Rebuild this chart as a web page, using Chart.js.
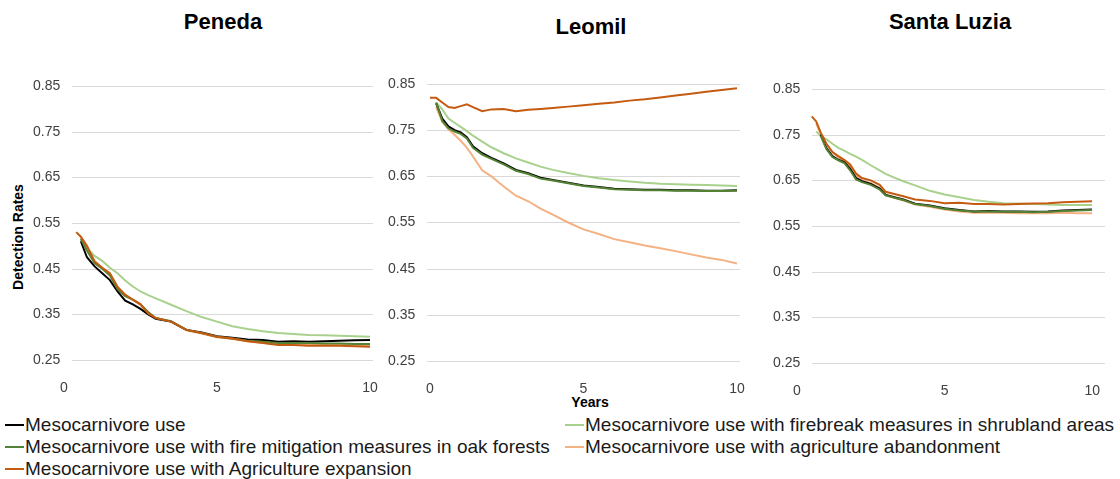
<!DOCTYPE html>
<html>
<head>
<meta charset="utf-8">
<script src="https://cdn.jsdelivr.net/npm/chart.js@4.4.1/dist/chart.umd.min.js"></script>
<style>
  html, body { margin: 0; padding: 0; background: #fff; }
  body { width: 1120px; height: 479px; position: relative; overflow: hidden;
         font-family: "Liberation Sans", Arial, sans-serif; color: #000; }
  canvas { position: absolute; left: 0; top: 0; }
  .title { position: absolute; font-weight: bold; font-size: 22px; transform: translate(-50%, -50%); white-space: nowrap; }
  .axis-title { position: absolute; font-weight: bold; font-size: 14px; white-space: nowrap; transform: translate(-50%, -50%); }
  .legend-item { position: absolute; font-size: 19px; white-space: nowrap; transform: translateY(-50%); color: #1a1a1a; }
  .legend-item .key { display: inline-block; width: 19px; height: 2px; vertical-align: middle; margin-right: 1px; position: relative; top: -1px; }
</style>
</head>
<body>

<div class="title" style="left:223px; top:22px;">Peneda</div>
<div class="title" style="left:591px; top:27px;">Leomil</div>
<div class="title" style="left:950px; top:22px;">Santa Luzia</div>
<div class="axis-title" style="left:18px; top:237px; transform: translate(-50%, -50%) rotate(-90deg);">Detection Rates</div>
<div class="axis-title" style="left:590px; top:402px;">Years</div>
<div id="legend"></div>

<canvas id="c1" width="1120" height="479"></canvas>
<canvas id="c2" width="1120" height="479"></canvas>
<canvas id="c3" width="1120" height="479"></canvas>

<script>
// ---- data ----
const seriesNames = [
  "Mesocarnivore use",
  "Mesocarnivore use with firebreak measures in shrubland areas",
  "Mesocarnivore use with fire mitigation measures in oak forests",
  "Mesocarnivore use with agriculture abandonment",
  "Mesocarnivore use with Agriculture expansion"
];
const seriesColors = ["#000000", "#a9d18e", "#548235", "#f4b183", "#c55a11"];

const yTicks = [0.25, 0.35, 0.45, 0.55, 0.65, 0.75, 0.85];
const xTicks = [0, 5, 10];

// Peneda
const penedaYears = [0.4, 0.55, 0.75, 1, 1.25, 1.5, 1.75, 2, 2.25, 2.5, 2.75, 3, 3.5, 4, 4.5, 5, 5.5, 6, 6.5, 7, 7.5, 8, 8.5, 9, 9.5, 10];
const penedaUse        = [null, 0.510, 0.475, 0.455, 0.440, 0.425, 0.400, 0.380, 0.372, 0.362, 0.350, 0.340, 0.334, 0.316, 0.310, 0.302, 0.299, 0.295, 0.294, 0.290, 0.291, 0.290, 0.291, 0.292, 0.293, 0.294];
const penedaFirebreak  = [null, 0.515, 0.495, 0.478, 0.467, 0.452, 0.440, 0.424, 0.411, 0.400, 0.392, 0.385, 0.371, 0.357, 0.344, 0.334, 0.324, 0.318, 0.313, 0.309, 0.307, 0.305, 0.304, 0.303, 0.302, 0.301];
const penedaOak        = [null, 0.515, 0.490, 0.462, 0.450, 0.435, 0.405, 0.390, 0.382, 0.372, 0.355, 0.342, 0.335, 0.316, 0.309, 0.301, 0.297, 0.292, 0.290, 0.287, 0.287, 0.287, 0.286, 0.286, 0.285, 0.285];
const penedaAbandon    = [null, 0.518, 0.495, 0.464, 0.452, 0.438, 0.410, 0.392, 0.382, 0.371, 0.353, 0.341, 0.334, 0.315, 0.308, 0.300, 0.296, 0.291, 0.288, 0.285, 0.285, 0.284, 0.284, 0.283, 0.283, 0.283];
const penedaExpansion  = [0.530, 0.520, 0.500, 0.466, 0.452, 0.440, 0.410, 0.393, 0.382, 0.372, 0.352, 0.342, 0.334, 0.316, 0.309, 0.301, 0.297, 0.291, 0.287, 0.283, 0.283, 0.281, 0.281, 0.281, 0.280, 0.279];

// Leomil
const leomilYears = [0, 0.2, 0.4, 0.6, 0.8, 1, 1.2, 1.4, 1.7, 2, 2.4, 2.8, 3.2, 3.6, 4, 4.5, 5, 5.5, 6, 6.5, 7, 7.5, 8, 8.5, 9, 9.5, 10];
const leomilUse        = [null, 0.808, 0.775, 0.758, 0.750, 0.745, 0.735, 0.715, 0.700, 0.690, 0.678, 0.664, 0.657, 0.647, 0.642, 0.636, 0.630, 0.627, 0.623, 0.622, 0.621, 0.621, 0.620, 0.620, 0.619, 0.619, 0.620];
const leomilFirebreak  = [null, 0.810, 0.795, 0.775, 0.766, 0.757, 0.748, 0.738, 0.725, 0.713, 0.700, 0.689, 0.680, 0.671, 0.664, 0.657, 0.651, 0.646, 0.642, 0.639, 0.636, 0.634, 0.633, 0.632, 0.631, 0.630, 0.629];
const leomilOak        = [null, 0.810, 0.770, 0.754, 0.747, 0.742, 0.732, 0.712, 0.697, 0.688, 0.676, 0.662, 0.655, 0.645, 0.641, 0.635, 0.629, 0.626, 0.622, 0.621, 0.620, 0.620, 0.619, 0.619, 0.618, 0.618, 0.619];
const leomilAbandon    = [null, 0.800, 0.768, 0.752, 0.740, 0.727, 0.712, 0.693, 0.663, 0.650, 0.628, 0.608, 0.596, 0.580, 0.567, 0.550, 0.535, 0.525, 0.514, 0.507, 0.500, 0.494, 0.488, 0.481, 0.474, 0.469, 0.461];
const leomilExpansion  = [0.820, 0.820, 0.810, 0.800, 0.798, 0.802, 0.806, 0.800, 0.791, 0.795, 0.796, 0.791, 0.794, 0.796, 0.798, 0.801, 0.804, 0.807, 0.810, 0.814, 0.817, 0.821, 0.825, 0.829, 0.833, 0.837, 0.841];

// Santa Luzia
const luziaYears = [0.5, 0.65, 0.8, 1, 1.2, 1.4, 1.6, 1.8, 2, 2.2, 2.5, 2.8, 3, 3.3, 3.6, 4, 4.5, 5, 5.5, 6, 6.5, 7, 7.5, 8, 8.5, 9, 9.5, 10];
const luziaUse         = [null, null, 0.750, 0.720, 0.703, 0.695, 0.690, 0.675, 0.655, 0.648, 0.642, 0.632, 0.618, 0.613, 0.608, 0.599, 0.595, 0.589, 0.585, 0.582, 0.583, 0.582, 0.582, 0.581, 0.582, 0.584, 0.585, 0.586];
const luziaFirebreak   = [null, 0.757, 0.748, 0.740, 0.730, 0.721, 0.715, 0.708, 0.702, 0.695, 0.683, 0.672, 0.664, 0.656, 0.648, 0.639, 0.627, 0.619, 0.613, 0.607, 0.603, 0.600, 0.599, 0.598, 0.597, 0.596, 0.596, 0.596];
const luziaOak         = [null, null, 0.748, 0.718, 0.701, 0.694, 0.688, 0.672, 0.652, 0.646, 0.640, 0.630, 0.617, 0.612, 0.607, 0.598, 0.594, 0.588, 0.584, 0.582, 0.582, 0.581, 0.581, 0.580, 0.581, 0.583, 0.584, 0.585];
const luziaAbandon     = [null, 0.775, 0.752, 0.728, 0.712, 0.700, 0.693, 0.680, 0.660, 0.650, 0.644, 0.633, 0.619, 0.612, 0.606, 0.597, 0.592, 0.586, 0.582, 0.579, 0.579, 0.579, 0.578, 0.578, 0.578, 0.579, 0.578, 0.578];
const luziaExpansion   = [0.790, 0.779, 0.755, 0.730, 0.712, 0.703, 0.695, 0.685, 0.665, 0.655, 0.650, 0.640, 0.625, 0.620, 0.615, 0.608, 0.605, 0.600, 0.601, 0.598, 0.598, 0.597, 0.598, 0.599, 0.600, 0.602, 0.603, 0.604];

// ---- layout (pixel boxes for each panel's plot area) ----
const W = 1120, H = 479;
const panels = [
  { id: "c1", years: penedaYears, series: [penedaUse, penedaFirebreak, penedaOak, penedaAbandon, penedaExpansion],
    left: 64, right: 370, top: 86, bottom: 360, gridLeft: 72, gridRight: 373 },
  { id: "c2", years: leomilYears, series: [leomilUse, leomilFirebreak, leomilOak, leomilAbandon, leomilExpansion],
    left: 430, right: 737, top: 84, bottom: 361, gridLeft: 427, gridRight: 740 },
  { id: "c3", years: luziaYears, series: [luziaUse, luziaFirebreak, luziaOak, luziaAbandon, luziaExpansion],
    left: 797, right: 1102, top: 89, bottom: 363, gridLeft: 812, gridRight: 1105 }
];
// draw order: light green at the bottom, orange on top
const drawOrder = [2, 5, 1, 4, 0];

const gridPlugin = {
  id: "hgrid",
  beforeDatasetsDraw(chart, args, opts) {
    const ctx = chart.ctx;
    const y = chart.scales.y;
    ctx.save();
    ctx.strokeStyle = "#d9d9d9";
    ctx.lineWidth = 1;
    yTicks.forEach(t => {
      const py = Math.round(y.getPixelForValue(t)) + 0.5;
      ctx.beginPath();
      ctx.moveTo(opts.from, py);
      ctx.lineTo(opts.to, py);
      ctx.stroke();
    });
    ctx.restore();
  }
};

const yAxisWidth = 40;
const labelWidth = 27;   // width of "0.85" at 14px

panels.forEach(p => {
  const datasets = p.series.map((vals, i) => ({
    label: seriesNames[i],
    data: p.years.map((x, k) => ({ x: x, y: vals[k] })),
    borderColor: seriesColors[i],
    backgroundColor: seriesColors[i],
    borderWidth: 2,
    pointRadius: 0,
    tension: 0,
    order: drawOrder[i]
  }));

  new Chart(document.getElementById(p.id), {
    type: "line",
    data: { datasets },
    plugins: [gridPlugin],
    options: {
      responsive: false,
      animation: false,
      events: [],
      layout: { padding: { left: p.left - yAxisWidth, right: W - p.right, top: p.top, bottom: 0 } },
      plugins: {
        legend: { display: false },
        tooltip: { enabled: false },
        hgrid: { from: p.gridLeft, to: p.gridRight }
      },
      scales: {
        x: {
          type: "linear",
          min: 0, max: 10,
          grid: { display: false, drawTicks: false },
          border: { display: false },
          afterBuildTicks: s => { s.ticks = xTicks.map(v => ({ value: v })); },
          afterFit: s => { s.height = H - p.bottom; },
          ticks: { color: "#404040", font: { family: "Liberation Sans, Arial", size: 14 }, padding: 20, maxRotation: 0 }
        },
        y: {
          min: 0.25, max: 0.85,
          grid: { display: false, drawTicks: false },
          border: { display: false },
          afterBuildTicks: s => { s.ticks = yTicks.map(v => ({ value: v })); },
          afterFit: s => { s.width = yAxisWidth; },
          ticks: {
            mirror: true,
            color: "#404040",
            font: { family: "Liberation Sans, Arial", size: 14 },
            padding: (p.gridLeft - 12 - labelWidth) - p.left,
            callback: v => v.toFixed(2)
          }
        }
      }
    }
  });
});

// ---- legend (HTML, Excel style two columns, row-wise) ----
const legendSlots = [
  { x: 5, y: 425 }, { x: 565, y: 425 },
  { x: 5, y: 447 }, { x: 565, y: 447 },
  { x: 5, y: 469 }
];
const legend = document.getElementById("legend");
seriesNames.forEach((name, i) => {
  const d = document.createElement("div");
  d.className = "legend-item";
  d.style.left = legendSlots[i].x + "px";
  d.style.top = legendSlots[i].y + "px";
  d.innerHTML = '<span class="key" style="background:' + seriesColors[i] + '"></span>' + name;
  legend.appendChild(d);
});
</script>
</body>
</html>
